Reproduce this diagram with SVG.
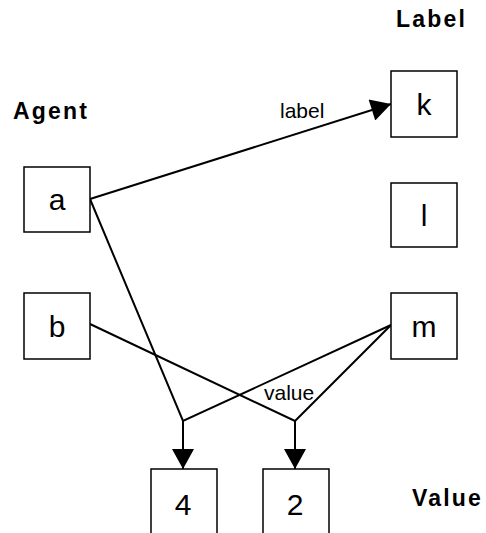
<svg xmlns="http://www.w3.org/2000/svg" width="486" height="533" viewBox="0 0 486 533">
<style>
.box{fill:#fff;stroke:#000;stroke-width:1.5}
.nt{font-family:"Liberation Sans",Arial,sans-serif;font-size:30px;text-anchor:middle;fill:#000}
.hd{font-family:"Liberation Sans",Arial,sans-serif;font-size:23px;font-weight:bold;letter-spacing:2.2px;fill:#000}
.el{font-family:"Liberation Sans",Arial,sans-serif;font-size:21px;fill:#000}
.ln{fill:none;stroke:#000;stroke-width:2}
</style>
<defs>
<marker id="arr" markerUnits="userSpaceOnUse" markerWidth="22" markerHeight="22" viewBox="0 0 20 22" refX="20" refY="11" orient="auto">
<path d="M0,0 L20,11 L0,22 Z" fill="#000"/>
</marker>
</defs>
<rect width="486" height="533" fill="#fff"/>
<text class="hd" x="396" y="27">Label</text>
<text class="hd" x="13" y="119">Agent</text>
<text class="hd" x="412" y="506">Value</text>
<g id="connectors">
<line class="ln" x1="90" y1="199" x2="391" y2="104" marker-end="url(#arr)"/>
<text class="el" x="280" y="118">label</text>
<polyline class="ln" points="90,199 183,421 391,325"/>
<line class="ln" x1="183" y1="421" x2="183" y2="469" marker-end="url(#arr)"/>
<polyline class="ln" points="90,324 295,421 391,325"/>
<line class="ln" x1="295" y1="421" x2="295" y2="469" marker-end="url(#arr)"/>
<text class="el" x="264" y="400">value</text>
</g>
<g id="node-a"><rect class="box" x="24" y="167" width="66" height="65"/><text class="nt" x="57" y="210">a</text></g>
<g id="node-b"><rect class="box" x="24" y="293" width="66" height="66"/><text class="nt" x="57" y="337">b</text></g>
<g id="node-k"><rect class="box" x="391" y="71" width="66" height="66"/><text class="nt" x="424" y="115">k</text></g>
<g id="node-l"><rect class="box" x="391" y="183" width="66" height="64"/><text class="nt" x="424" y="226">l</text></g>
<g id="node-m"><rect class="box" x="391" y="293" width="66" height="66"/><text class="nt" x="424" y="337">m</text></g>
<g id="node-4"><rect class="box" x="151" y="469" width="66" height="70"/><text class="nt" x="183" y="515">4</text></g>
<g id="node-2"><rect class="box" x="263" y="469" width="66" height="70"/><text class="nt" x="295" y="515">2</text></g>
</svg>
